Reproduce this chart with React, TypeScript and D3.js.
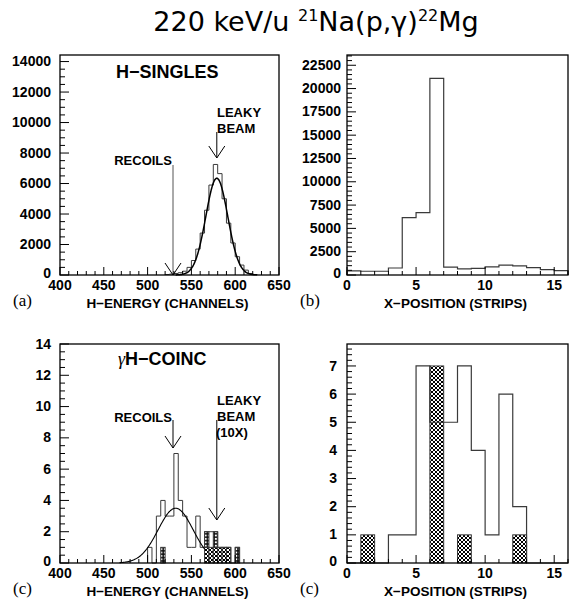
import React from 'react';
import * as d3 from 'd3';

// ---- data ----
// (a) H-singles energy spectrum, 5-channel bins starting at 520
const singlesStart = 520;
const singlesBin = 5;
const singlesCounts = [30, 60, 100, 150, 250, 500, 950, 1700, 2750, 4250, 5900, 7250, 6650, 5000, 3400, 2100, 1200, 650, 320, 100, 30];
const singlesFit = { amp: 6350, mean: 579, sigma: 12.5, from: 532, to: 625 };

// (b) H-singles x-position, 1-strip bins from 0
const stripsSingles = [450, 400, 400, 750, 6150, 6700, 21100, 850, 650, 720, 880, 1050, 980, 800, 580, 480];

// (c) gamma-H coincidences, 5-channel bins starting at 500
const coincStart = 500;
const coincBin = 5;
const coincOpen = [1, 0, 3, 4, 3, 3, 7, 4, 3, 1, 1, 3, 1, 2, 2, 2, 1, 1, 1, 0, 1];
const coincLeaky = [0, 0, 0, 0, 0, 0, 0, 0, 0, 0, 0, 0, 0, 1, 1, 1, 1, 1, 1, 0, 0];
const coincOther = [0, 0, 0, 1, 0, 0, 0, 0, 0, 0, 0, 0, 0, 1, 0, 1, 0, 0, 0, 0, 1];
const coincFit = { amp: 3.5, mean: 532, sigma: 20, from: 468, to: 565 };

// (d) coincidence x-position
const stripsOpen = [0, 0, 0, 1, 1, 7, 5, 5, 7, 4, 1, 6, 2, 0, 0, 0];
const stripsHatched = [0, 1, 0, 0, 0, 0, 7, 0, 1, 0, 0, 0, 1, 0, 0, 0];

const energyTicks = [400, 450, 500, 550, 600, 650];
const stripTicks = [0, 5, 10, 15];
const singlesYTicks = [0, 2000, 4000, 6000, 8000, 10000, 12000, 14000];
const stripsYTicks = [0, 2500, 5000, 7500, 10000, 12500, 15000, 17500, 20000, 22500];
const coincYTicks = [0, 2, 4, 6, 8, 10, 12, 14];
const coincStripYTicks = [0, 1, 2, 3, 4, 5, 6, 7];

const LABEL = 'Liberation Sans, Arial, sans-serif';
const HIST = '#3a3a3a';

type Frame = {
  l: number; r: number; t: number; b: number;
  xd: [number, number]; yd: [number, number];
  xTicks: number[]; xMinor: number; xMajor: number;
  yTicks: number[]; yMinor: number; yMajor: number; yGap: number;
  xTitle: string; tag: string; tagX: number;
};

function stepPath(x: d3.ScaleLinear<number, number>, y: d3.ScaleLinear<number, number>, start: number, bin: number, vals: number[]) {
  const pts: [number, number][] = [[start, 0]];
  vals.forEach((v, i) => {
    pts.push([start + i * bin, v]);
    pts.push([start + (i + 1) * bin, v]);
  });
  pts.push([start + vals.length * bin, 0]);
  return d3.line<[number, number]>().x(d => x(d[0])).y(d => y(d[1]))(pts) || '';
}

function fitPath(x: d3.ScaleLinear<number, number>, y: d3.ScaleLinear<number, number>, f: { amp: number; mean: number; sigma: number; from: number; to: number }) {
  const xs = d3.range(f.from, f.to + 0.01, 0.5);
  return d3.line<number>()
    .x(c => x(c))
    .y(c => y(f.amp * Math.exp(-((c - f.mean) ** 2) / (2 * f.sigma * f.sigma))))
    .curve(d3.curveBasis)(xs) || '';
}

function Axes({ f, x, y }: { f: Frame; x: d3.ScaleLinear<number, number>; y: d3.ScaleLinear<number, number> }) {
  const xm = d3.range(f.xd[0], f.xd[1] + 1e-6, f.xMinor);
  const ym = d3.range(f.yd[0], f.yd[1] + 1e-6, f.yMinor);
  const isMaj = (v: number, step: number) => Math.abs(v / step - Math.round(v / step)) < 1e-6;
  return (
    <g>
      {xm.map((v, i) => (
        <line key={'x' + i} x1={x(v)} x2={x(v)} y1={f.b} y2={f.b - (isMaj(v, f.xMajor) ? 8 : 4)} stroke="#000" strokeWidth={1} />
      ))}
      {ym.map((v, i) => (
        <line key={'y' + i} x1={f.l} x2={f.l + (isMaj(v, f.yMajor) ? 9 : 5)} y1={y(v)} y2={y(v)} stroke="#000" strokeWidth={1} />
      ))}
      {f.xTicks.map(v => (
        <text key={'xl' + v} x={x(v)} y={f.b + 15} textAnchor="middle" fontFamily={LABEL} fontWeight="bold" fontSize={14}>{v}</text>
      ))}
      {f.yTicks.map(v => (
        <text key={'yl' + v} x={f.l - f.yGap} y={y(v) - (v === 0 ? 2 : 0)} dy="0.33em" textAnchor="end" fontFamily={LABEL} fontWeight="bold" fontSize={14}>{v}</text>
      ))}
      <text x={(f.l + f.r) / 2 - 2} y={f.b + 33} textAnchor="middle" fontFamily={LABEL} fontWeight="bold" fontSize={13.5}>{f.xTitle}</text>
      <text x={f.tagX} y={f.b + 31} fontFamily="Liberation Serif, Times New Roman, serif" fontSize={17}>{f.tag}</text>
    </g>
  );
}

function Arrow({ x, y1, y2, color = '#555' }: { x: number; y1: number; y2: number; color?: string }) {
  return (
    <g>
      <line x1={x} x2={x} y1={y1} y2={y2} stroke={color} strokeWidth={1} />
      <path d={`M${x - 8},${y2 - 12} L${x},${y2} L${x + 8},${y2 - 12}`} fill="none" stroke="#000" strokeWidth={1} />
    </g>
  );
}

function Bars({ x, y, start, bin, vals, base, fill }: { x: d3.ScaleLinear<number, number>; y: d3.ScaleLinear<number, number>; start: number; bin: number; vals: number[]; base?: number[]; fill: string }) {
  return (
    <g>
      {vals.map((v, i) => {
        if (v <= 0) return null;
        const b0 = base ? base[i] : 0;
        return (
          <rect key={i} x={x(start + i * bin)} width={x(start + (i + 1) * bin) - x(start + i * bin)}
            y={y(b0 + v)} height={y(b0) - y(b0 + v)} fill={fill} stroke={HIST} strokeWidth={1} />
        );
      })}
    </g>
  );
}

export default function App() {
  const fa: Frame = { l: 60, r: 279, t: 55, b: 275, xd: [400, 650], yd: [0, 14430], xTicks: energyTicks, xMinor: 10, xMajor: 50, yTicks: singlesYTicks, yMinor: 500, yMajor: 2000, yGap: 9, xTitle: 'H\u2212ENERGY (CHANNELS)', tag: '(a)', tagX: 13 };
  const fb: Frame = { l: 347, r: 568, t: 55, b: 275, xd: [0, 16], yd: [0, 23600], xTicks: stripTicks, xMinor: 1, xMajor: 5, yTicks: stripsYTicks, yMinor: 500, yMajor: 2500, yGap: 6, xTitle: 'X\u2212POSITION (STRIPS)', tag: '(b)', tagX: 300 };
  const fc: Frame = { l: 60, r: 279, t: 344, b: 563, xd: [400, 650], yd: [0, 14], xTicks: energyTicks, xMinor: 10, xMajor: 50, yTicks: coincYTicks, yMinor: 0.5, yMajor: 2, yGap: 9, xTitle: 'H\u2212ENERGY (CHANNELS)', tag: '(c)', tagX: 13 };
  const fd: Frame = { l: 347, r: 568, t: 344, b: 563, xd: [0, 16], yd: [0, 7.78], xTicks: stripTicks, xMinor: 1, xMajor: 5, yTicks: coincStripYTicks, yMinor: 0.2, yMajor: 1, yGap: 10, xTitle: 'X\u2212POSITION (STRIPS)', tag: '(c)', tagX: 300 };

  const sx = (f: Frame) => d3.scaleLinear().domain(f.xd).range([f.l, f.r]);
  const sy = (f: Frame) => d3.scaleLinear().domain(f.yd).range([f.b, f.t]);
  const xa = sx(fa), ya = sy(fa), xb = sx(fb), yb = sy(fb), xc = sx(fc), yc = sy(fc), xdd = sx(fd), ydd = sy(fd);

  const frameRect = (f: Frame) => <rect x={f.l} y={f.t} width={f.r - f.l} height={f.b - f.t} fill="none" stroke="#000" strokeWidth={1.3} />;

  return (
    <svg width={572} height={605} style={{ position: 'absolute', left: 0, top: 0, background: '#fff' }}>
      <defs>
        <pattern id="cross" patternUnits="userSpaceOnUse" width={4} height={4}>
          <rect width={4} height={4} fill="#fff" />
          <path d="M0,0 L4,4 M4,0 L0,4" stroke="#000" strokeWidth={1} />
        </pattern>
        <pattern id="dots" patternUnits="userSpaceOnUse" width={3.4} height={3.4}>
          <rect width={3.4} height={3.4} fill="#111" />
          <circle cx={1.7} cy={1.7} r={1.05} fill="#fff" />
        </pattern>
      </defs>
      <rect width={572} height={605} fill="#fff" />

      <text x={316} y={31} textAnchor="middle" fontFamily="DejaVu Sans, sans-serif" fontSize={27}>
        220 keV/u <tspan fontSize={16} dy={-10}>21</tspan><tspan dy={10}>Na(p,γ)</tspan><tspan fontSize={16} dy={-10}>22</tspan><tspan dy={10}>Mg</tspan>
      </text>

      {/* (a) */}
      <path d={stepPath(xa, ya, singlesStart, singlesBin, singlesCounts)} fill="none" stroke={HIST} strokeWidth={1} />
      <path d={fitPath(xa, ya, singlesFit)} fill="none" stroke="#000" strokeWidth={1.5} />
      <Arrow x={xa(529)} y1={165} y2={275} />
      <Arrow x={xa(579)} y1={132} y2={158} color="#000" />
      <text x={116} y={78} fontFamily={LABEL} fontWeight="bold" fontSize={18}>H−SINGLES</text>
      <text x={172} y={165} textAnchor="end" fontFamily={LABEL} fontWeight="bold" fontSize={13}>RECOILS</text>
      <text x={217} y={116.5} fontFamily={LABEL} fontWeight="bold" fontSize={13}>LEAKY</text>
      <text x={217} y={133} fontFamily={LABEL} fontWeight="bold" fontSize={13}>BEAM</text>
      <Axes f={fa} x={xa} y={ya} />
      {frameRect(fa)}

      {/* (b) */}
      <path d={stepPath(xb, yb, 0, 1, stripsSingles)} fill="none" stroke={HIST} strokeWidth={1.2} />
      <Axes f={fb} x={xb} y={yb} />
      {frameRect(fb)}

      {/* (c) */}
      <Bars x={xc} y={yc} start={coincStart} bin={coincBin} vals={coincLeaky} fill="url(#cross)" />
      <Bars x={xc} y={yc} start={coincStart} bin={coincBin} vals={coincOther} base={coincLeaky} fill="url(#dots)" />
      <path d={stepPath(xc, yc, coincStart, coincBin, coincOpen)} fill="none" stroke={HIST} strokeWidth={1} />
      <path d={fitPath(xc, yc, coincFit)} fill="none" stroke="#000" strokeWidth={1.1} />
      <Arrow x={xc(529)} y1={420} y2={448} color="#000" />
      <Arrow x={xc(579)} y1={420} y2={520} color="#000" />
      <text x={118} y={365} fontFamily={LABEL} fontWeight="bold" fontSize={18}><tspan fontFamily="Liberation Serif, serif" fontStyle="italic" fontWeight="normal">γ</tspan>H−COINC</text>
      <text x={172} y={421.5} textAnchor="end" fontFamily={LABEL} fontWeight="bold" fontSize={13}>RECOILS</text>
      <text x={217} y={405} fontFamily={LABEL} fontWeight="bold" fontSize={13}>LEAKY</text>
      <text x={217} y={421} fontFamily={LABEL} fontWeight="bold" fontSize={13}>BEAM</text>
      <text x={216} y={437} fontFamily={LABEL} fontWeight="bold" fontSize={13}>(10X)</text>
      <Axes f={fc} x={xc} y={yc} />
      {frameRect(fc)}

      {/* (d) */}
      <Bars x={xdd} y={ydd} start={0} bin={1} vals={stripsHatched} fill="url(#cross)" />
      <path d={stepPath(xdd, ydd, 0, 1, stripsOpen)} fill="none" stroke={HIST} strokeWidth={1.2} />
      <Axes f={fd} x={xdd} y={ydd} />
      {frameRect(fd)}
    </svg>
  );
}
